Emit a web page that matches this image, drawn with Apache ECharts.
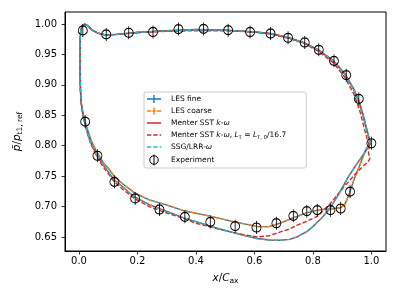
<!DOCTYPE html>
<html>
<head>
<meta charset="utf-8">
<script src="https://cdn.jsdelivr.net/npm/echarts@6/dist/echarts.min.js"></script>
<style>html,body{margin:0;padding:0;background:#fff;}#c{width:399px;height:299px;}</style>
</head>
<body>
<div id="c"></div>
<script>
// ---------------- data ----------------
const xTicks = [0.0, 0.2, 0.4, 0.6, 0.8, 1.0];
const yTicks = [0.65, 0.70, 0.75, 0.80, 0.85, 0.90, 0.95, 1.00];

// LES (fine / coarse) - upper and lower branch
const lesUpX = [0.004, 0.006, 0.012, 0.02, 0.03, 0.045, 0.065, 0.09, 0.13, 0.2, 0.3, 0.4, 0.5, 0.6, 0.66, 0.72, 0.77, 0.82, 0.87, 0.91, 0.94, 0.96, 0.975, 0.988, 0.997];
const lesUpY = [0.975, 0.99, 0.998, 1.0, 0.997, 0.99, 0.985, 0.982, 0.983, 0.986, 0.989, 0.991, 0.990, 0.987, 0.984, 0.977, 0.969, 0.957, 0.940, 0.918, 0.893, 0.870, 0.845, 0.82, 0.805];
const lesLoX = [0.0035, 0.0035, 0.005, 0.008, 0.013, 0.02, 0.03, 0.041, 0.055, 0.07, 0.085, 0.10, 0.12, 0.15, 0.19, 0.24, 0.29, 0.36, 0.41, 0.46, 0.52, 0.57, 0.61, 0.65, 0.69, 0.73, 0.78, 0.826, 0.86, 0.895, 0.91, 0.925, 0.94, 0.963, 0.98, 0.997];
const lesLoY = [0.95, 0.92, 0.89, 0.87, 0.855, 0.84, 0.825, 0.809, 0.795, 0.782, 0.771, 0.763, 0.750, 0.737, 0.7225, 0.711, 0.704, 0.693, 0.688, 0.683, 0.676, 0.671, 0.667, 0.667, 0.673, 0.681, 0.690, 0.695, 0.696, 0.698, 0.704, 0.722, 0.7435, 0.771, 0.793, 0.805];

// Menter SST k-omega and SSG/LRR-omega (RANS)
const ransUpX = [0.004, 0.006, 0.012, 0.02, 0.03, 0.045, 0.065, 0.09, 0.13, 0.2, 0.3, 0.4, 0.5, 0.6, 0.66, 0.72, 0.77, 0.82, 0.87, 0.91, 0.94, 0.96, 0.975, 0.988, 0.998];
const ransUpY = [0.975, 0.99, 0.998, 1.0, 0.997, 0.99, 0.985, 0.982, 0.983, 0.986, 0.989, 0.990, 0.990, 0.987, 0.984, 0.977, 0.969, 0.957, 0.939, 0.917, 0.892, 0.868, 0.843, 0.818, 0.804];
const ransLoX = [0.0035, 0.0035, 0.005, 0.008, 0.013, 0.02, 0.03, 0.04, 0.06, 0.08, 0.10, 0.12, 0.15, 0.175, 0.19, 0.24, 0.289, 0.36, 0.403, 0.46, 0.518, 0.56, 0.609, 0.65, 0.689, 0.72, 0.746, 0.78, 0.80, 0.83, 0.86, 0.89, 0.92, 0.95, 0.975, 0.99, 0.998];
const ransLoY = [0.95, 0.92, 0.89, 0.868, 0.852, 0.837, 0.82, 0.805, 0.785, 0.770, 0.757, 0.744, 0.732, 0.7215, 0.716, 0.703, 0.694, 0.681, 0.6747, 0.666, 0.6583, 0.653, 0.6474, 0.645, 0.6446, 0.646, 0.650, 0.659, 0.667, 0.681, 0.698, 0.722, 0.748, 0.770, 0.787, 0.798, 0.804];

// Menter SST k-omega with reduced turbulent length scale
const mlUpX = [0.004, 0.006, 0.012, 0.02, 0.03, 0.045, 0.065, 0.09, 0.13, 0.2, 0.3, 0.4, 0.5, 0.6, 0.66, 0.72, 0.77, 0.82, 0.87, 0.91, 0.94, 0.96, 0.975, 0.985, 0.993];
const mlUpY = [0.975, 0.99, 0.998, 1.0, 0.997, 0.99, 0.985, 0.982, 0.983, 0.986, 0.988, 0.989, 0.989, 0.987, 0.983, 0.976, 0.968, 0.955, 0.936, 0.912, 0.885, 0.858, 0.830, 0.812, 0.800];
const mlLoX = [0.0035, 0.0035, 0.005, 0.008, 0.013, 0.02, 0.03, 0.04, 0.06, 0.08, 0.10, 0.12, 0.15, 0.175, 0.19, 0.24, 0.289, 0.36, 0.403, 0.46, 0.518, 0.56, 0.609, 0.65, 0.689, 0.72, 0.746, 0.78, 0.815, 0.86, 0.906, 0.95, 0.975, 0.988, 0.995, 0.99, 0.993];
const mlLoY = [0.95, 0.92, 0.89, 0.867, 0.851, 0.836, 0.818, 0.803, 0.783, 0.767, 0.754, 0.741, 0.728, 0.7187, 0.713, 0.700, 0.6912, 0.680, 0.6721, 0.665, 0.6583, 0.654, 0.650, 0.652, 0.6583, 0.663, 0.6693, 0.676, 0.684, 0.705, 0.7325, 0.756, 0.768, 0.773, 0.779, 0.788, 0.800];

// Experiment
const expX = [0.013, 0.093, 0.170, 0.253, 0.340, 0.426, 0.51, 0.585, 0.655, 0.715, 0.772, 0.820, 0.872, 0.914, 0.957, 1.0, 0.021, 0.063, 0.121, 0.192, 0.275, 0.362, 0.449, 0.534, 0.607, 0.675, 0.733, 0.779, 0.815, 0.860, 0.895, 0.927];
const expY = [0.9895, 0.983, 0.9857, 0.987, 0.9917, 0.992, 0.990, 0.987, 0.9845, 0.9774, 0.9697, 0.9577, 0.9395, 0.916, 0.877, 0.804, 0.8395, 0.7835, 0.7406, 0.7133, 0.6952, 0.683, 0.6747, 0.6677, 0.6655, 0.6726, 0.6847, 0.6924, 0.694, 0.694, 0.6968, 0.7245];

const names = ['LES fine', 'LES coarse', 'Menter SST k-ω', 'Menter SST k-ω, LT = LT,0/16.7', 'SSG/LRR-ω', 'Experiment'];

// ---------------- helpers ----------------
function loop(upX, upY, loX, loY) {
  const pts = [];
  for (let i = upX.length - 1; i >= 0; i--) pts.push([upX[i], upY[i]]);
  for (let i = 0; i < loX.length; i++) pts.push([loX[i], loY[i]]);
  return pts;
}
const FONT = 'DejaVu Sans';
const COL = { blue: '#1f77b4', orange: '#ff7f0e', red: '#d62728', cyan: '#17becf' };
const DASH = [4.5, 2];

function lineSeries(name, data, color, dashed) {
  return {
    type: 'line', name: name, data: data, symbol: 'none', showSymbol: false,
    silent: true, animation: false, clip: true,
    itemStyle: { color: color },
    lineStyle: { color: color, width: 1.4, type: dashed ? DASH : 'solid' },
    emphasis: { disabled: true }
  };
}

const expData = expX.map((x, i) => [x, expY[i]]);

// legend icons (shape only)
const iconSolidPlus = 'path://M0,4.75L14,4.75L14,6.25L0,6.25ZM6.3,1.5L7.7,1.5L7.7,9.5L6.3,9.5Z';
const iconDashPlus = 'path://M0,4.75L4.3,4.75L4.3,6.25L0,6.25ZM5.3,4.75L8.7,4.75L8.7,6.25L5.3,6.25ZM6.3,2L7.7,2L7.7,9L6.3,9ZM9.7,4.75L14,4.75L14,6.25L9.7,6.25Z';
const iconSolid = 'path://M0,4.75L14,4.75L14,6.25L0,6.25Z';
const iconDash = 'path://M0,4.75L4.3,4.75L4.3,6.25L0,6.25ZM6.3,4.75L10.6,4.75L10.6,6.25L6.3,6.25ZM12.6,4.75L14,4.75L14,6.25L12.6,6.25Z';
const iconExp = 'path://M7,0L7,11M2.75,5.5A4.25,4.25,0,1,1,11.25,5.5A4.25,4.25,0,1,1,2.75,5.5Z';

const legendLabel = {
  'LES fine': 'LES fine',
  'LES coarse': 'LES coarse',
  'Menter SST k-ω': 'Menter SST {i|k}-{i|ω}',
  'Menter SST k-ω, LT = LT,0/16.7': 'Menter SST {i|k}-{i|ω}, {i|L}{s|T} = {i|L}{s|T, 0}/16.7',
  'SSG/LRR-ω': 'SSG/LRR-{i|ω}',
  'Experiment': 'Experiment'
};

const chart = echarts.init(document.getElementById('c'), null, { renderer: 'canvas' });
chart.setOption({
  animation: false,
  backgroundColor: '#fff',
  textStyle: { fontFamily: FONT },
  grid: {
    left: 65, right: 13, top: 12, bottom: 48,
    show: true, borderColor: '#000', borderWidth: 1, backgroundColor: 'transparent',
    containLabel: false, outerBoundsMode: 'none'
  },
  xAxis: {
    type: 'value', min: -0.048, max: 1.05,
    name: '{i|x}/{i|C}{s|ax}', nameLocation: 'middle', nameGap: 18,
    nameTextStyle: {
      fontFamily: FONT, fontSize: 10.5, color: '#000', lineHeight: 14,
      rich: {
        i: { fontFamily: FONT, fontStyle: 'italic', fontSize: 10.5, color: '#000', lineHeight: 14 },
        s: { fontFamily: FONT, fontSize: 7.5, color: '#000', lineHeight: 8, verticalAlign: 'bottom' }
      }
    },
    axisLine: { show: true, onZero: false, lineStyle: { color: '#000', width: 1 } },
    axisTick: { show: true, inside: false, length: 3.5, lineStyle: { color: '#000', width: 0.8 }, customValues: xTicks },
    axisLabel: { show: true, customValues: xTicks, margin: 5, fontFamily: FONT, fontSize: 10, color: '#000',
      formatter: v => v.toFixed(1) },
    splitLine: { show: false }
  },
  yAxis: {
    type: 'value', min: 0.6269, max: 1.0198,
    name: '{i|p̄}/{i|p}{s|t1, ref}', nameLocation: 'middle', nameGap: 37,
    nameTextStyle: {
      fontFamily: FONT, fontSize: 10.5, color: '#000', lineHeight: 14,
      rich: {
        i: { fontFamily: FONT, fontStyle: 'italic', fontSize: 10.5, color: '#000', lineHeight: 14 },
        s: { fontFamily: FONT, fontSize: 7.5, color: '#000', lineHeight: 8, verticalAlign: 'bottom' }
      }
    },
    axisLine: { show: true, onZero: false, lineStyle: { color: '#000', width: 1 } },
    axisTick: { show: true, inside: false, length: 3.5, lineStyle: { color: '#000', width: 0.8 }, customValues: yTicks },
    axisLabel: { show: true, customValues: yTicks, margin: 8, fontFamily: FONT, fontSize: 10, color: '#000',
      formatter: v => v.toFixed(2) },
    splitLine: { show: false }
  },
  legend: {
    show: true, orient: 'vertical', left: 144, top: 92,
    itemWidth: 14, itemHeight: 11, itemGap: 2,
    padding: [2, 20, 2, 3],
    backgroundColor: 'rgba(255,255,255,0.85)', borderColor: '#cccccc', borderWidth: 1, borderRadius: 2,
    selectedMode: false,
    textStyle: {
      fontFamily: FONT, fontSize: 7.5, color: '#000', lineHeight: 10, padding: [0, 0, 0, 5],
      rich: {
        i: { fontFamily: FONT, fontStyle: 'italic', fontSize: 7.5, color: '#000', lineHeight: 10 },
        s: { fontFamily: FONT, fontSize: 5.3, color: '#000', lineHeight: 6, verticalAlign: 'bottom' }
      }
    },
    formatter: n => legendLabel[n],
    data: [
      { name: names[0], icon: iconSolidPlus, itemStyle: { color: COL.blue, borderWidth: 0 } },
      { name: names[1], icon: iconDashPlus, itemStyle: { color: COL.orange, borderWidth: 0 } },
      { name: names[2], icon: iconSolid, itemStyle: { color: COL.red, borderWidth: 0 } },
      { name: names[3], icon: iconDash, itemStyle: { color: COL.red, borderWidth: 0 } },
      { name: names[4], icon: iconDash, itemStyle: { color: COL.cyan, borderWidth: 0 } },
      { name: names[5], icon: iconExp, itemStyle: { color: 'rgba(0,0,0,0)', borderColor: '#000', borderWidth: 1 } }
    ]
  },
  series: [
    lineSeries(names[0], loop(lesUpX, lesUpY, lesLoX, lesLoY), COL.blue, false),
    lineSeries(names[1], loop(lesUpX, lesUpY, lesLoX, lesLoY), COL.orange, true),
    lineSeries(names[2], loop(ransUpX, ransUpY, ransLoX, ransLoY), COL.red, false),
    lineSeries(names[3], loop(mlUpX, mlUpY, mlLoX, mlLoY), COL.red, true),
    lineSeries(names[4], loop(ransUpX, ransUpY, ransLoX, ransLoY), COL.cyan, true),
    {
      type: 'scatter', name: names[5], data: expData, silent: true, animation: false,
      symbol: 'path://M9,0L9,26M0,13A9,9,0,1,1,18,13A9,9,0,1,1,0,13',
      symbolSize: [9, 13],
      itemStyle: { color: 'rgba(0,0,0,0)', borderColor: '#000', borderWidth: 1, opacity: 1 },
      emphasis: { disabled: true },
      z: 5
    }
  ]
});
</script>
</body>
</html>
